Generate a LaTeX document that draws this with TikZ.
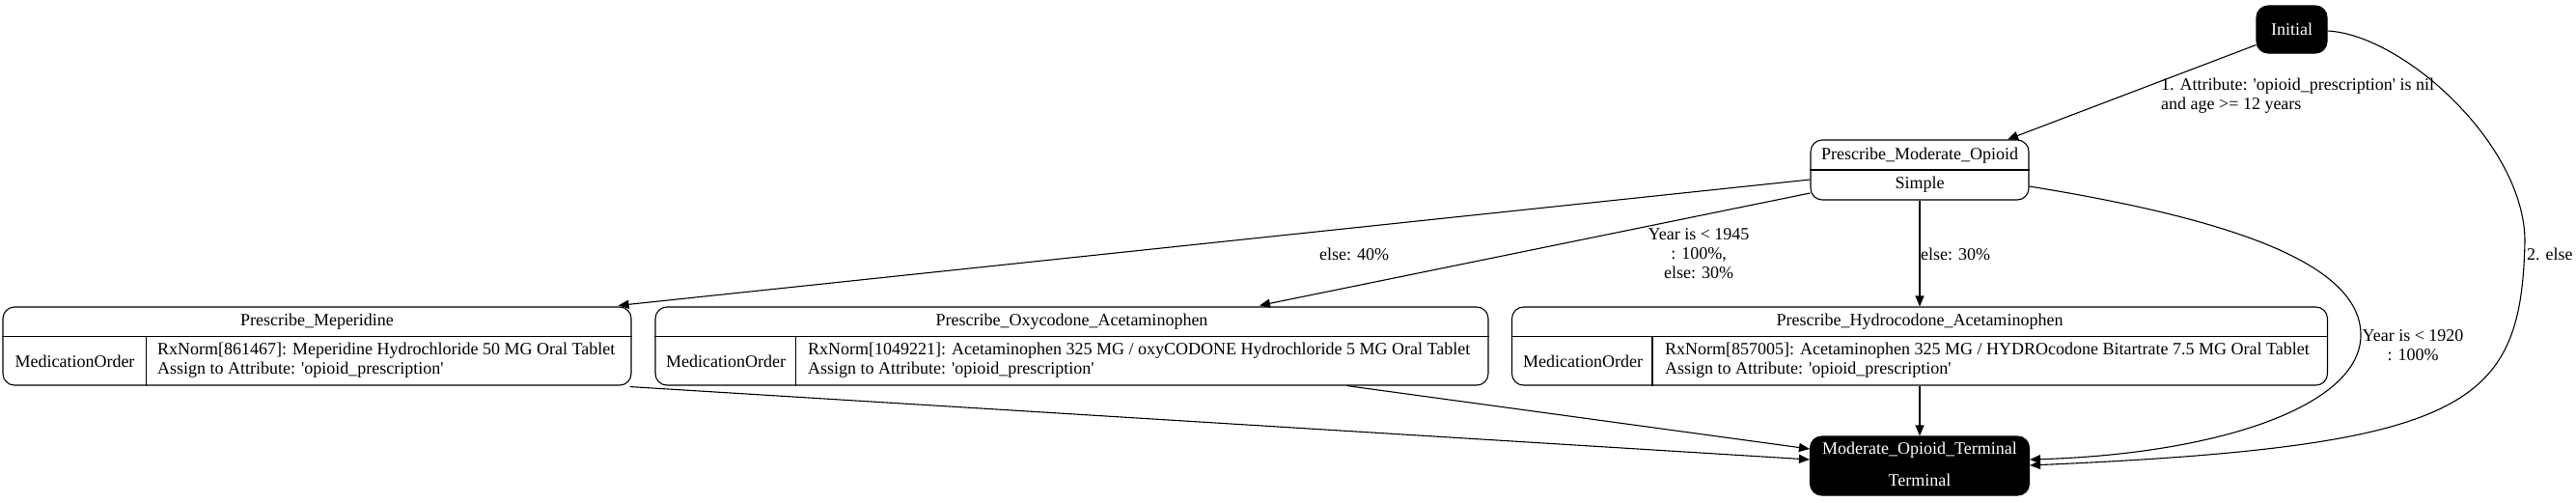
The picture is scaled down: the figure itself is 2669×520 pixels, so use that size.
\documentclass[tikz,border=0pt]{standalone}
\usepackage{fontspec}
\setmainfont{Liberation Serif}
\usetikzlibrary{arrows.meta,calc}
\newcommand{\myq}{\textquotesingle}
\begin{document}
\begin{tikzpicture}[x=1pt,y=-1pt,
  every node/.style={font=\fontsize{18}{20}\selectfont, inner sep=0pt},
  rec/.style={draw, rounded corners=12pt, line width=1.1pt, inner sep=0pt},
  blk/.style={draw, fill=black, rounded corners=12pt, line width=1.1pt, text=white},
  wtxt/.style={text=white},
  divider/.style={line width=1.1pt},
  conn/.style={line width=1.1pt, -{Triangle[length=11pt,width=9pt]}},
  lbl/.style={align=center},
  lbll/.style={align=left, anchor=west},
]
\useasboundingbox (0,0) rectangle (2669,520);

% Initial
\node[blk, minimum width=73pt, minimum height=49pt] (init) at (2374.5,30.5) {Initial};

% Prescribe_Moderate_Opioid
\node[rec, minimum width=226pt, minimum height=62pt] (pmo) at (1989,176) {};
\draw[divider] (pmo.west) -- (pmo.east);
\node (pmot) at (1989,161) {Prescribe\_Moderate\_Opioid};
\node (pmos) at (1989,191) {Simple};

% Prescribe_Meperidine
\node[rec, minimum width=651pt, minimum height=81pt] (mep) at (328.5,358.5) {};
\draw[divider] ($(mep.north west)+(0,31)$) -- ($(mep.north east)+(0,31)$);
\draw[divider] ($(mep.north west)+(149,31)$) -- ($(mep.south west)+(149,0)$);
\node (mept) at (328.5,333) {Prescribe\_Meperidine};
\node (mepa) at (77.5,374) {MedicationOrder};
\node[lbll] (mepb) at (163,373) {RxNorm[861467]: Meperidine Hydrochloride 50 MG Oral Tablet\\Assign to Attribute: \myq opioid\_prescription\myq};

% Prescribe_Oxycodone_Acetaminophen
\node[rec, minimum width=863pt, minimum height=81pt] (oxy) at (1110.5,358.5) {};
\draw[divider] ($(oxy.north west)+(0,31)$) -- ($(oxy.north east)+(0,31)$);
\draw[divider] ($(oxy.north west)+(146,31)$) -- ($(oxy.south west)+(146,0)$);
\node (oxyt) at (1110.5,333) {Prescribe\_Oxycodone\_Acetaminophen};
\node (oxya) at (752,374) {MedicationOrder};
\node[lbll] (oxyb) at (837,373) {RxNorm[1049221]: Acetaminophen 325 MG / oxyCODONE Hydrochloride 5 MG Oral Tablet\\Assign to Attribute: \myq opioid\_prescription\myq};

% Prescribe_Hydrocodone_Acetaminophen
\node[rec, minimum width=845pt, minimum height=81pt] (hyd) at (1989,358.5) {};
\draw[divider] ($(hyd.north west)+(0,31)$) -- ($(hyd.north east)+(0,31)$);
\draw[divider] ($(hyd.north west)+(146,31)$) -- ($(hyd.south west)+(146,0)$);
\node (hydt) at (1989,333) {Prescribe\_Hydrocodone\_Acetaminophen};
\node (hyda) at (1640,374) {MedicationOrder};
\node[lbll] (hydb) at (1725,373) {RxNorm[857005]: Acetaminophen 325 MG / HYDROcodone Bitartrate 7.5 MG Oral Tablet\\Assign to Attribute: \myq opioid\_prescription\myq};

% Terminal
\node[blk, minimum width=227pt, minimum height=61pt] (term) at (1989,482.5) {};
\node[wtxt] (termt) at (1989,466) {Moderate\_Opioid\_Terminal};
\node[wtxt] (terms) at (1989,497) {Terminal};

% Connectors
\draw[conn] ($(init.south west)+(0,-9)$) -- ($(pmo.north)+(91,0)$);
\node[lbll] (l1) at (2239,99) {1. Attribute: \myq opioid\_prescription\myq{} is nil\\and age >= 12 years};

\coordinate (e2a) at (2616,250);
\draw[conn] ($(init.east)+(0,1.5)$) .. controls (2490,36) and (2616,150) .. (e2a)
  .. controls (2612,420) and (2560,462) .. ($(term.east)+(0,-0.5)$);
\node[lbll] (l2) at (2618,263) {2. else};

\draw[conn] ($(pmo.west)+(0,10)$) -- ($(mep.north east)+(-14,-1)$);
\node[lbl] (l3) at (1403,263) {else: 40\%};

\draw[conn] ($(pmo.west)+(0,24)$) -- ($(oxy.north)+(194.5,-1)$);
\node[lbl] (l4) at (1760,263) {Year is < 1945\\: 100\%,\\else: 30\%};

\draw[conn] (pmo.south) -- (hyd.north);
\node[lbll] (l5) at (1990,263) {else: 30\%};

\coordinate (e6a) at (2446,347);
\draw[conn] ($(pmo.east)+(0,17)$) .. controls (2300,225) and (2446,270) .. (e6a)
  .. controls (2446,420) and (2300,470) .. ($(term.east)+(0,-6.5)$);
\node[lbl] (l6) at (2500,358) {Year is < 1920\\: 100\%};

\draw[conn] ($(mep.south east)+(-2,1)$) -- ($(term.west)+(0,-6.5)$);
\draw[conn] ($(oxy.south)+(285,0)$) -- ($(term.west)+(0,-17.5)$);
\draw[conn] (hyd.south) -- (term.north);
\end{tikzpicture}
\end{document}
